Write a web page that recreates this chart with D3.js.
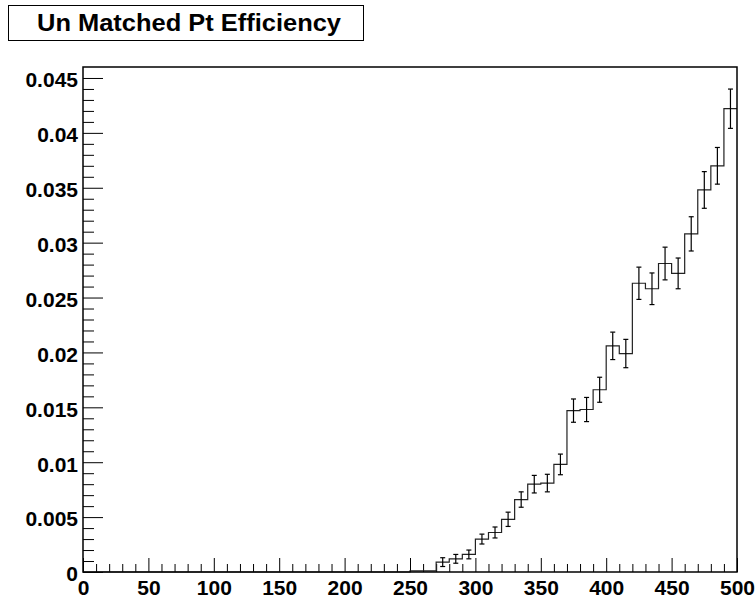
<!DOCTYPE html>
<html>
<head>
<meta charset="utf-8">
<script src="https://cdn.jsdelivr.net/npm/d3@7"></script>
<style>
  html, body { margin: 0; padding: 0; background: #fff; }
  svg { display: block; }
  text { font-family: "Liberation Sans", Arial, Helvetica, sans-serif; font-weight: bold; fill: #000; }
</style>
</head>
<body>
<svg id="chart" width="755" height="599"></svg>
<script>
// ---- data ----
const chartTitle = "Un Matched Pt Efficiency";
const binLow = [0,10,20,30,40,50,60,70,80,90,100,110,120,130,140,150,160,170,180,190,
  200,210,220,230,240,250,260,270,280,290,300,310,320,330,340,350,360,370,380,390,
  400,410,420,430,440,450,460,470,480,490];
const binWidth = 10;
const values = [0,0,0,0,0,0,0,0,0,0, 0,0,0,0,0,0,0,0,0,0, 0,0,0,0,0,
  0.0001,0.0001,0.0009,0.0012,0.0016,
  0.0030,0.0036,0.0048,0.0066,0.0080,0.0081,0.0098,0.0147,0.0148,0.0166,
  0.0206,0.0199,0.0263,0.0258,0.0281,0.0272,0.0308,0.0348,0.0370,0.0422];
const errors = [0,0,0,0,0,0,0,0,0,0, 0,0,0,0,0,0,0,0,0,0, 0,0,0,0,0,
  0,0,0.0004,0.0004,0.0004,
  0.00045,0.0005,0.00065,0.0007,0.0008,0.0008,0.00094,0.00106,0.0011,0.00114,
  0.00125,0.00129,0.00147,0.00144,0.00149,0.0014,0.00156,0.00167,0.00167,0.00179];
const xMajorTicks = [0,50,100,150,200,250,300,350,400,450,500];
const yMajorTicks = [0,0.005,0.01,0.015,0.02,0.025,0.03,0.035,0.04,0.045];
const yTickLabels = ["0","0.005","0.01","0.015","0.02","0.025","0.03","0.035","0.04","0.045"];
const xDomain = [0, 500];
const yDomain = [0, 0.046];

// ---- layout ----
const svg = d3.select("#chart");
const L = 83, R = 737, T = 67, B = 572;
const x = d3.scaleLinear().domain(xDomain).range([L, R]);
const y = d3.scaleLinear().domain(yDomain).range([B, T]);

// title box
const tg = svg.append("g");
tg.append("rect").attr("x", 8.5).attr("y", 5.5).attr("width", 355).attr("height", 35)
  .attr("fill", "#fff").attr("stroke", "#000").attr("stroke-width", 1);
tg.append("text").attr("x", 37).attr("y", 31).attr("font-size", 24)
  .attr("textLength", 304).attr("lengthAdjust", "spacingAndGlyphs")
  .text(chartTitle);

// minor ticks
const xMinor = d3.range(0, 501, 10).filter(v => v % 50 !== 0);
const yMinor = d3.range(0, 46).map(i => i / 1000).filter(v => Math.round(v * 1000) % 5 !== 0);

const axisStyle = g => {
  g.select(".domain").remove();
  g.selectAll(".tick line").attr("stroke", "#000").attr("stroke-width", 1);
  g.selectAll("text").attr("font-size", 21).attr("font-family", "'Liberation Sans', Arial, sans-serif")
    .attr("font-weight", "bold").attr("fill", "#000");
};

svg.append("g").attr("transform", `translate(0,${B})`)
  .call(d3.axisBottom(x).tickValues(xMinor).tickSize(-8).tickFormat(""))
  .call(axisStyle);
svg.append("g").attr("transform", `translate(0,${B})`)
  .call(d3.axisBottom(x).tickValues(xMajorTicks).tickSize(-14).tickPadding(8).tickFormat(d3.format("d")))
  .call(axisStyle);

svg.append("g").attr("transform", `translate(${L},0)`)
  .call(d3.axisLeft(y).tickValues(yMinor).tickSize(-11).tickFormat(""))
  .call(axisStyle);
svg.append("g").attr("transform", `translate(${L},0)`)
  .call(d3.axisLeft(y).tickValues(yMajorTicks).tickSize(-20).tickPadding(5)
    .tickFormat((d, i) => yTickLabels[i]))
  .call(axisStyle)
  .call(g => g.selectAll("text").attr("dy", "0.42em"));

// histogram step line
const pts = [];
binLow.forEach((lo, i) => {
  pts.push([lo, values[i]]);
  pts.push([lo + binWidth, values[i]]);
});
const line = d3.line().x(d => x(d[0])).y(d => y(d[1]));
svg.append("path").attr("d", line(pts)).attr("fill", "none")
  .attr("stroke", "#222").attr("stroke-width", 1.2);

// error bars
const eb = svg.append("g").attr("stroke", "#000").attr("stroke-width", 1.2);
binLow.forEach((lo, i) => {
  if (errors[i] <= 0) return;
  const cx = x(lo + binWidth / 2);
  const yl = y(values[i] - errors[i]), yh = y(values[i] + errors[i]);
  eb.append("line").attr("x1", cx).attr("x2", cx).attr("y1", yl).attr("y2", yh);
  eb.append("line").attr("x1", cx - 2.5).attr("x2", cx + 2.5).attr("y1", yl).attr("y2", yl);
  eb.append("line").attr("x1", cx - 2.5).attr("x2", cx + 2.5).attr("y1", yh).attr("y2", yh);
});

// frame
svg.append("rect").attr("x", L).attr("y", T).attr("width", R - L).attr("height", B - T)
  .attr("fill", "none").attr("stroke", "#000").attr("stroke-width", 1.5);
</script>
</body>
</html>
